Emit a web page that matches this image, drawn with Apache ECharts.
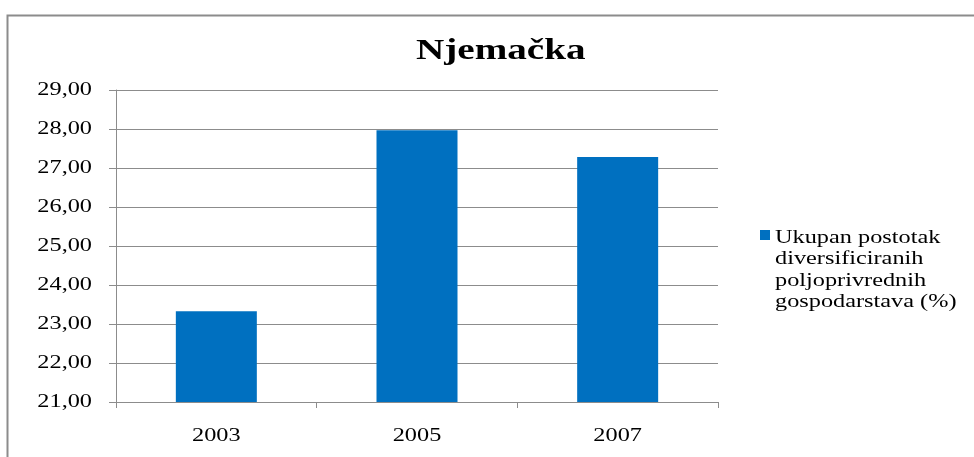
<!DOCTYPE html>
<html>
<head>
<meta charset="utf-8">
<script src="https://cdn.jsdelivr.net/npm/echarts@6/dist/echarts.min.js"></script>
<style>
  html, body { margin: 0; padding: 0; background: #ffffff; }
  #chart { width: 974px; height: 457px; }
</style>
</head>
<body>
<div id="chart"></div>
<script>
// Chart data
const years = ['2003', '2005', '2007'];
const diversifiedShare = [23.33, 27.97, 27.28];
const seriesName = 'Ukupan postotak\ndiversificiranih\npoljoprivrednih\ngospodarstava (%)';
const titleText = 'Njemačka';
const yMin = 21;
const yMax = 29;
const yStep = 1;

// All labels use a horizontally widened serif face. Canvas text is drawn
// and measured with the same stretch so ECharts lays it out correctly.
const TEXT_STRETCH = 1.35;
(function () {
  const proto = CanvasRenderingContext2D.prototype;
  const origFill = proto.fillText;
  const origStroke = proto.strokeText;
  const origMeasure = proto.measureText;
  function drawStretched(orig) {
    return function (text, x, y, maxWidth) {
      this.save();
      this.translate(x, y);
      this.scale(TEXT_STRETCH, 1);
      if (maxWidth !== undefined) {
        orig.call(this, text, 0, 0, maxWidth / TEXT_STRETCH);
      } else {
        orig.call(this, text, 0, 0);
      }
      this.restore();
    };
  }
  proto.fillText = drawStretched(origFill);
  proto.strokeText = drawStretched(origStroke);
  proto.measureText = function (text) {
    const m = origMeasure.call(this, text);
    return {
      width: m.width * TEXT_STRETCH,
      actualBoundingBoxLeft: m.actualBoundingBoxLeft * TEXT_STRETCH,
      actualBoundingBoxRight: m.actualBoundingBoxRight * TEXT_STRETCH,
      actualBoundingBoxAscent: m.actualBoundingBoxAscent,
      actualBoundingBoxDescent: m.actualBoundingBoxDescent,
      fontBoundingBoxAscent: m.fontBoundingBoxAscent,
      fontBoundingBoxDescent: m.fontBoundingBoxDescent,
      emHeightAscent: m.emHeightAscent,
      emHeightDescent: m.emHeightDescent,
      alphabeticBaseline: m.alphabeticBaseline,
      hangingBaseline: m.hangingBaseline,
      ideographicBaseline: m.ideographicBaseline
    };
  };
})();

const serif = '"Liberation Serif", "Times New Roman", serif';
const lineGrey = '#8c8c8c';

const chart = echarts.init(document.getElementById('chart'), null, { renderer: 'canvas' });

chart.setOption({
  animation: false,
  backgroundColor: '#ffffff',
  // outer frame of the chart area
  graphic: [{
    type: 'rect',
    left: 5,
    top: 13,
    shape: { width: 1000, height: 500 },
    style: { fill: 'none', stroke: lineGrey, lineWidth: 2 },
    silent: true
  }],
  title: {
    text: titleText,
    left: 411,
    top: 27,
    textStyle: {
      fontFamily: serif,
      fontWeight: 'bold',
      fontSize: 29,
      color: '#000000'
    }
  },
  legend: {
    left: 755,
    top: 221,
    orient: 'vertical',
    itemWidth: 10,
    itemHeight: 86,
    // square swatch next to the first text line
    icon: 'path://M0,5H10V15H0Z M0,86L0.01,86Z',
    textStyle: {
      fontFamily: serif,
      fontSize: 18,
      lineHeight: 21.5,
      color: '#000000'
    }
  },
  grid: {
    left: 116,
    right: 256,
    top: 90,
    bottom: 55,
    containLabel: false
  },
  xAxis: {
    type: 'category',
    data: years,
    axisLine: { lineStyle: { color: lineGrey, width: 1 } },
    axisTick: { show: true, length: 6, alignWithLabel: false, lineStyle: { color: lineGrey } },
    axisLabel: {
      margin: 22,
      fontFamily: serif,
      fontSize: 18,
      color: '#000000'
    }
  },
  yAxis: {
    type: 'value',
    min: yMin,
    max: yMax,
    interval: yStep,
    axisLine: { show: true, lineStyle: { color: lineGrey, width: 1 } },
    axisTick: { show: true, length: 7, lineStyle: { color: lineGrey } },
    splitLine: { show: true, lineStyle: { color: lineGrey, width: 1 } },
    axisLabel: {
      margin: 24,
      fontFamily: serif,
      fontSize: 18,
      color: '#000000',
      formatter: v => v.toFixed(2).replace('.', ',')
    }
  },
  series: [{
    name: seriesName,
    type: 'bar',
    data: diversifiedShare,
    barWidth: 81,
    itemStyle: { color: '#0070C0' }
  }]
});
</script>
</body>
</html>
